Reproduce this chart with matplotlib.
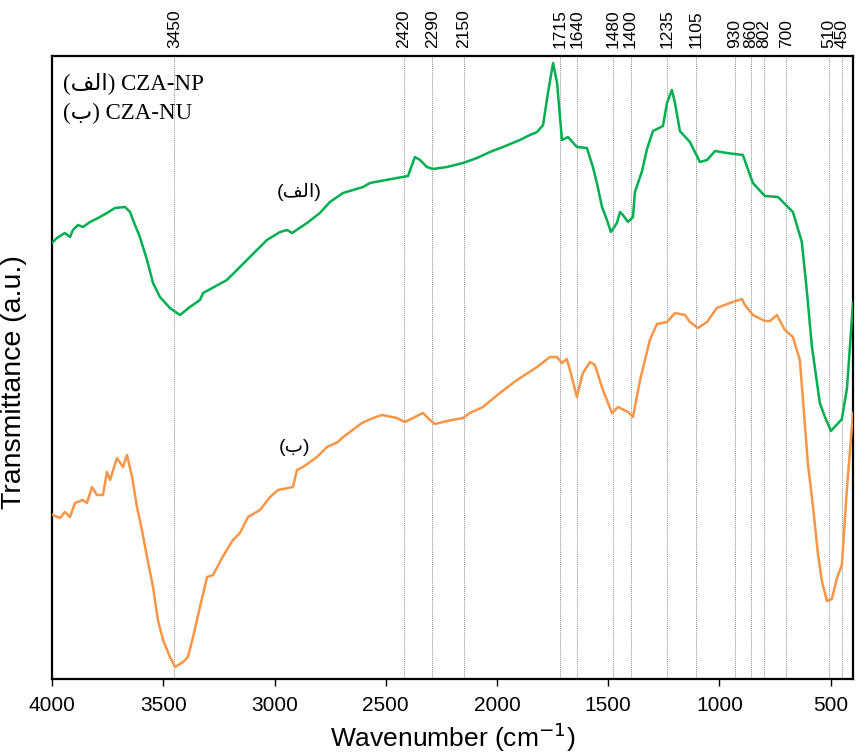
import numpy as np
import matplotlib
matplotlib.use('Agg')
import matplotlib.pyplot as plt

# FTIR spectra, wavenumber (cm-1) vs transmittance (arbitrary units)
wn_np = [4000, 3978, 3942, 3919, 3906, 3883, 3861, 3829, 3793, 3753, 3717, 3672, 3649, 3636,
         3605, 3573, 3546, 3515, 3470, 3425, 3380, 3335, 3321, 3214, 3124, 3034, 2975, 2944,
         2921, 2854, 2796, 2751, 2692, 2602, 2571, 2450, 2400, 2369, 2346, 2315, 2288, 2225,
         2153, 2090, 2032, 1973, 1897, 1852, 1820, 1793, 1771, 1748, 1730, 1717, 1708, 1681,
         1641, 1596, 1569, 1551, 1528, 1506, 1488, 1461, 1447, 1434, 1411, 1389, 1380, 1348,
         1326, 1299, 1254, 1236, 1214, 1200, 1178, 1133, 1088, 1056, 1020, 967, 895, 850,
         796, 737, 697, 670, 630, 607, 585, 549, 526, 499, 450, 427, 400]
t_np = [436, 441, 446, 442, 449, 454, 452, 457, 461, 466, 471, 472, 467, 459,
        442, 419, 396, 382, 371, 364, 372, 379, 386, 399, 419, 439, 447, 449,
        446, 456, 466, 477, 486, 492, 496, 501, 503, 522, 519, 512, 510, 512,
        516, 521, 527, 532, 539, 544, 547, 554, 586, 616, 596, 562, 539, 542,
        532, 531, 512, 496, 472, 459, 447, 456, 467, 464, 457, 462, 487, 508,
        530, 548, 553, 576, 589, 576, 548, 537, 517, 519, 528, 526, 524, 496,
        483, 482, 473, 467, 437, 387, 333, 276, 262, 248, 260, 291, 376]

wn_nu = [3996, 3964, 3942, 3919, 3897, 3861, 3843, 3820, 3798, 3771, 3753, 3739, 3708, 3681,
         3663, 3640, 3618, 3596, 3573, 3546, 3524, 3501, 3470, 3447, 3411, 3389, 3366, 3335,
         3303, 3276, 3236, 3187, 3155, 3119, 3065, 3020, 2984, 2917, 2899, 2872, 2809, 2764,
         2715, 2697, 2661, 2607, 2557, 2517, 2450, 2414, 2369, 2333, 2301, 2279, 2225, 2153,
         2122, 2063, 1987, 1910, 1820, 1762, 1731, 1708, 1686, 1672, 1641, 1614, 1582, 1560,
         1524, 1483, 1456, 1411, 1389, 1357, 1313, 1281, 1236, 1200, 1155, 1133, 1097, 1056,
         1012, 953, 899, 886, 850, 796, 773, 742, 706, 670, 639, 625, 603, 580, 558, 540,
         517, 495, 472, 450, 427, 400]
t_nu = [164, 161, 167, 162, 176, 179, 176, 192, 184, 184, 207, 199, 221, 212,
        224, 202, 172, 149, 122, 92, 59, 39, 22, 12, 17, 22, 42, 72,
        102, 104, 121, 139, 146, 162, 169, 182, 189, 192, 209, 212, 222, 232,
        237, 241, 247, 256, 261, 264, 261, 257, 262, 266, 259, 255, 258, 261,
        266, 272, 286, 299, 312, 322, 322, 316, 320, 309, 282, 306, 317, 314,
        289, 266, 272, 267, 262, 299, 339, 355, 357, 366, 364, 357, 351, 357,
        371, 376, 380, 374, 364, 358, 358, 364, 349, 342, 319, 280, 216, 173, 126, 98,
        78, 80, 101, 114, 191, 266]

peaks = [3450, 2420, 2290, 2150, 1715, 1640, 1480, 1400, 1235, 1105, 930, 860, 802, 700, 510, 450]
xticks = [4000, 3500, 3000, 2500, 2000, 1500, 1000, 500]

label_np = '(' + '\ufed2\ufedf\ufe8d' + ')'   # (الف)
label_nu = '(' + '\u0628' + ')'               # (ب)

plt.rcParams['font.family'] = ['Liberation Sans', 'DejaVu Sans']

fig = plt.figure(figsize=(8.56, 7.52), dpi=100)
ax = fig.add_axes([52/856, 1 - 679/752, 801/856, 623/752])

for p in peaks:
    ax.axvline(p, color='#8a8a8a', lw=0.7, ls=(0, (1, 1)), zorder=1)

ax.plot(wn_np, t_np, color='#00b050', lw=1.8, zorder=3)
ax.plot(wn_nu, t_nu, color='#f79646', lw=1.8, zorder=3)

ax.set_xlim(4000, 400)
ax.set_ylim(0, 623)
ax.set_xticks(xticks)
ax.set_yticks([])
ax.tick_params(axis='x', direction='out', length=5, width=1, labelsize=15, pad=7)
for s in ax.spines.values():
    s.set_linewidth(1.6)

top = ax.secondary_xaxis('top')
top.set_ticks(peaks)
top.set_xticklabels([str(p) for p in peaks], rotation=90)
top.tick_params(length=0, labelsize=12.5, pad=6)
top.spines['top'].set_visible(False)

ax.set_xlabel('Wavenumber (cm$^{-1}$)', fontsize=19, labelpad=4)
ax.set_ylabel('Transmittance (a.u.)', fontsize=20.5)
ax.yaxis.set_label_coords(-0.031, 0.477)

# legend-like text in the corner
serif = ['Liberation Serif', 'DejaVu Sans']
fig.text(63/856, 1 - 83/752, label_np + ' CZA-NP', family=serif, fontsize=16.5, va='center', ha='left')
fig.text(63/856, 1 - 113/752, label_nu + ' CZA-NU', family=serif, fontsize=16.5, va='center', ha='left')

# curve labels
ax.text(2890, 679 - 192, label_np, fontsize=14, ha='center', va='center')
ax.text(2910, 679 - 448, label_nu, fontsize=14, ha='center', va='center')

fig.savefig('out.png', dpi=100)
